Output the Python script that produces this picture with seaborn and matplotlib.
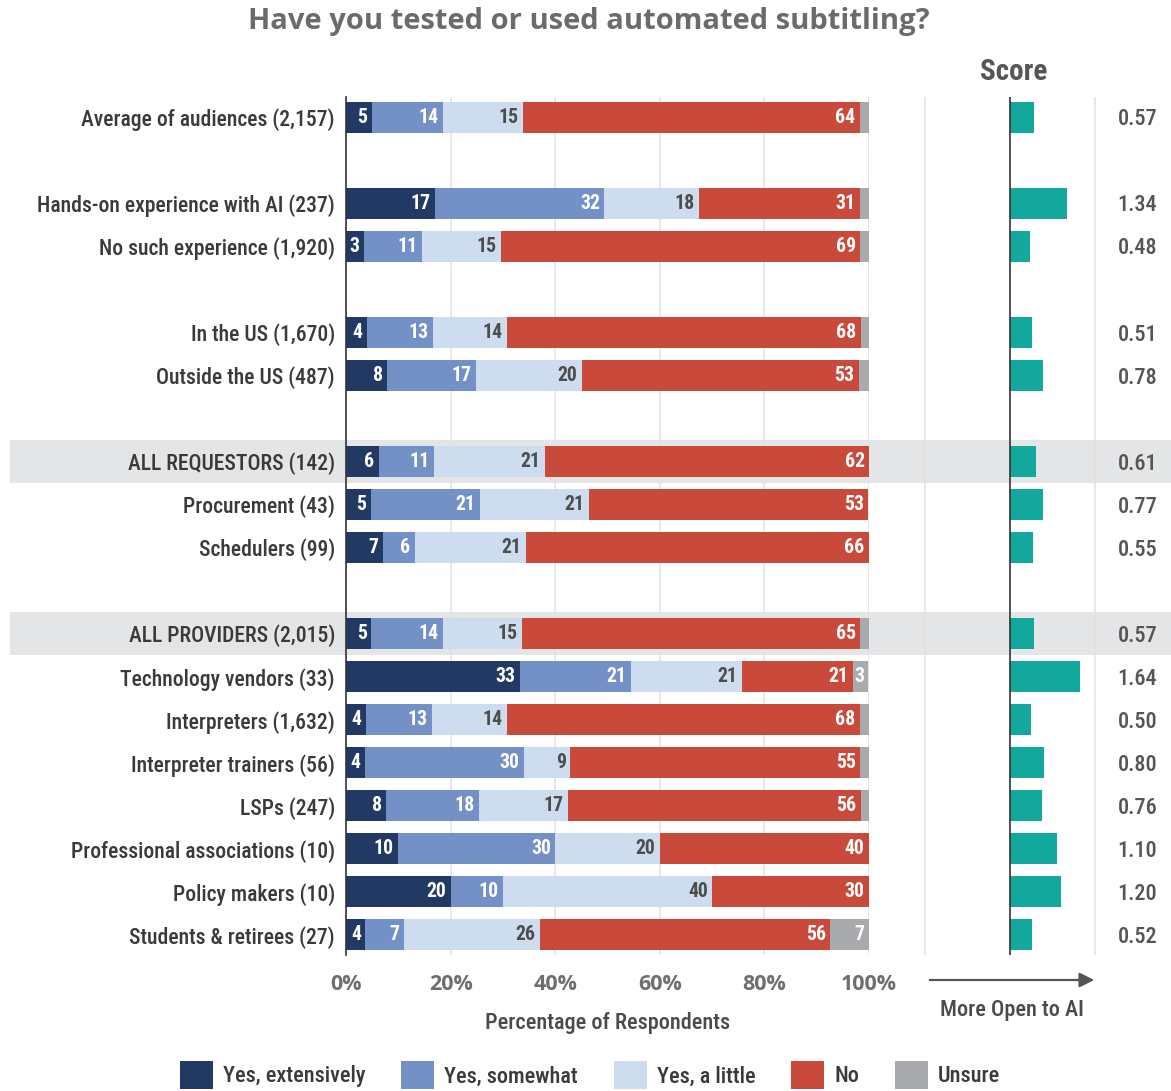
import matplotlib
matplotlib.use("Agg")
import matplotlib.pyplot as plt
import seaborn as sns
import numpy as np
import pandas as pd
from matplotlib import font_manager
from matplotlib.patches import Rectangle, Patch
from matplotlib.transforms import blended_transform_factory

# ---------------- data ----------------
categories = [
    "Average of audiences (2,157)",
    "Hands-on experience with AI (237)",
    "No such experience (1,920)",
    "In the US (1,670)",
    "Outside the US (487)",
    "ALL REQUESTORS (142)",
    "Procurement (43)",
    "Schedulers (99)",
    "ALL PROVIDERS (2,015)",
    "Technology vendors (33)",
    "Interpreters (1,632)",
    "Interpreter trainers (56)",
    "LSPs (247)",
    "Professional associations (10)",
    "Policy makers (10)",
    "Students & retirees (27)",
]
group_sizes = [1, 2, 2, 3, 8]
highlighted = ["ALL REQUESTORS (142)", "ALL PROVIDERS (2,015)"]

series_names = ["Yes, extensively", "Yes, somewhat", "Yes, a little", "No", "Unsure"]
yes_extensively = [4.9, 17.0, 3.4, 4.0, 7.9, 6.3, 4.7, 7.1, 4.8, 33.3, 3.8, 3.6, 7.7, 10, 20, 3.7]
yes_somewhat    = [13.6, 32.4, 11.2, 12.7, 17.0, 10.6, 20.9, 6.1, 13.8, 21.2, 12.6, 30.4, 17.8, 30, 10, 7.4]
yes_a_little    = [15.3, 18.1, 15.1, 14.0, 20.2, 21.1, 20.9, 21.2, 15.0, 21.2, 14.3, 8.9, 17.0, 20, 40, 25.9]
no              = [64.4, 30.8, 68.6, 67.8, 53.0, 62.0, 53.4, 65.6, 64.7, 21.2, 67.6, 55.4, 55.9, 40, 30, 55.6]
unsure          = [1.8, 1.7, 1.7, 1.5, 1.9, 0, 0, 0, 1.7, 3.0, 1.7, 1.8, 1.6, 0, 0, 7.4]

scores = [0.57, 1.34, 0.48, 0.51, 0.78, 0.61, 0.77, 0.55, 0.57, 1.64, 0.50, 0.80, 0.76, 1.10, 1.20, 0.52]

x_ticks = [0, 20, 40, 60, 80, 100]
x_tick_labels = ["0%", "20%", "40%", "60%", "80%", "100%"]

# ---------------- style ----------------
colors = ["#223963", "#7491c7", "#cddcef", "#c9493a", "#a9aaad"]
label_colors = ["white", "white", "#4d4d4d", "white", "white"]
teal = "#13a89e"
text_gray = "#4a4a4a"

sns.set_theme(style="white")
avail = {f.name for f in font_manager.fontManager.ttflist}
COND = next((f for f in ["Roboto Condensed", "Liberation Sans Narrow", "Open Sans Condensed",
                         "DejaVu Sans Condensed"] if f in avail), "DejaVu Sans")
WIDE = "Open Sans" if "Open Sans" in avail else "DejaVu Sans"
plt.rcParams["font.family"] = [COND, "DejaVu Sans"]

W, H = 1171, 1091
fig = plt.figure(figsize=(W / 100, H / 100), dpi=100)
bottom = 1 - 955 / H
height = 858 / H
ax = fig.add_axes([346 / W, bottom, 523 / W, height])
axs = fig.add_axes([880 / W, bottom, 291 / W, height])
for a in (ax, axs):
    a.set_facecolor("none")

# row positions with a blank slot between groups
pos = []
p = 0
for g in group_sizes:
    pos += list(range(p, p + g))
    p += g + 1
pos = np.array(pos, dtype=float)

vals = np.array([yes_extensively, yes_somewhat, yes_a_little, no, unsure]).T
cum = np.cumsum(vals, axis=1)

df = pd.DataFrame({"category": categories, "pos": pos, "score": scores})
for j in range(4, -1, -1):
    df["cum"] = cum[:, j]
    sns.barplot(data=df, x="cum", y="pos", orient="h", native_scale=True,
                color=colors[j], saturation=1, width=0.72, linewidth=0,
                errorbar=None, ax=ax, zorder=2)

ymin, ymax = pos.min() - 0.47, pos.max() + 0.47
ax.set_xlim(0, 100)
ax.set_ylim(ymax, ymin)
ax.set_yticks(pos)
ax.set_yticklabels(categories, fontsize=15.6, color="#3a3a3a", fontweight="medium")
ax.tick_params(axis="y", length=0, pad=8)
ax.set_xticks(x_ticks)
ax.set_xticklabels(x_tick_labels, fontsize=15.5, color="#6e6e6e", family=[WIDE, "DejaVu Sans"],
                   fontweight="bold")
ax.tick_params(axis="x", length=0, pad=14)
ax.xaxis.grid(True, color="#e2e2e2", lw=1.1)
ax.set_axisbelow(True)
ax.set_ylabel("")
ax.set_xlabel("Percentage of Respondents", fontsize=16, color=text_gray, labelpad=12,
              fontweight="medium")
for s in ["top", "right", "bottom"]:
    ax.spines[s].set_visible(False)
ax.spines["left"].set_color("#333333")
ax.spines["left"].set_linewidth(1.2)
ax.spines["left"].set_zorder(3)

# segment labels
for i in range(len(categories)):
    for j in range(5):
        v = vals[i, j]
        if round(v) >= 3:
            ax.annotate(f"{round(v)}", xy=(cum[i, j], pos[i]), xytext=(-3.2, 0),
                        textcoords="offset points", ha="right", va="center",
                        color=label_colors[j], fontsize=14.2, fontweight="bold", zorder=4)

# score panel
sns.barplot(data=df, x="score", y="pos", orient="h", native_scale=True, color=teal,
            saturation=1, width=0.72, linewidth=0, errorbar=None, ax=axs, zorder=2)
axs.set_xlim((880 - 1010) / 42.5, (1171 - 1010) / 42.5)
axs.set_ylim(ymax, ymin)
axs.set_xticks([-2, 2])
axs.set_xticklabels([])
axs.set_yticks([])
axs.tick_params(length=0)
axs.xaxis.grid(True, color="#e2e2e2", lw=1.1)
axs.set_axisbelow(True)
axs.set_xlabel("")
axs.set_ylabel("")
for s in axs.spines.values():
    s.set_visible(False)
axs.axvline(0, color="#333333", lw=1.2, zorder=3)
for sc, pp in zip(scores, pos):
    axs.text(3.0, pp + 0.05, f"{sc:.2f}", ha="center", va="center", fontsize=16,
             color="#555555", fontweight="medium")

# highlight bands
blend = blended_transform_factory(fig.transFigure, ax.transData)
for cat in highlighted:
    pp = pos[categories.index(cat)]
    fig.add_artist(Rectangle((10 / W, pp - 0.5), 1 - 10 / W, 1.0, transform=blend,
                             facecolor="#e4e5e6", edgecolor="none", zorder=-1))

# titles and annotations
fig.text(589 / W, 1 - 21 / H, "Have you tested or used automated subtitling?", ha="center",
         va="center", fontsize=21, fontweight="bold", color="#6b6b6b",
         family=[WIDE, "DejaVu Sans"])
fig.text(1014 / W, 1 - 72 / H, "Score", ha="center", va="center", fontsize=21,
         color="#555555", fontweight="semibold")
ax.annotate("", xy=(1097 / W, 1 - 980 / H), xytext=(927 / W, 1 - 980 / H),
            xycoords="figure fraction", textcoords="figure fraction",
            arrowprops=dict(arrowstyle="-|>", color="#555555", lw=1.6, mutation_scale=22))
fig.text(1012 / W, 1 - 1010 / H, "More Open to AI", ha="center", va="center", fontsize=16,
         color=text_gray, fontweight="medium")

# legend
handles = [Patch(facecolor=c, edgecolor="none") for c in colors]
leg = fig.legend(handles, series_names, loc="center", bbox_to_anchor=(590 / W, 1 - 1075 / H),
                 ncol=5, frameon=False, prop={"size": 16, "weight": "medium"},
                 handlelength=1.5, handleheight=1.5, columnspacing=1.6, handletextpad=0.45)
for t in leg.get_texts():
    t.set_color("#3a3a3a")

fig.savefig("out.png", dpi=100)
